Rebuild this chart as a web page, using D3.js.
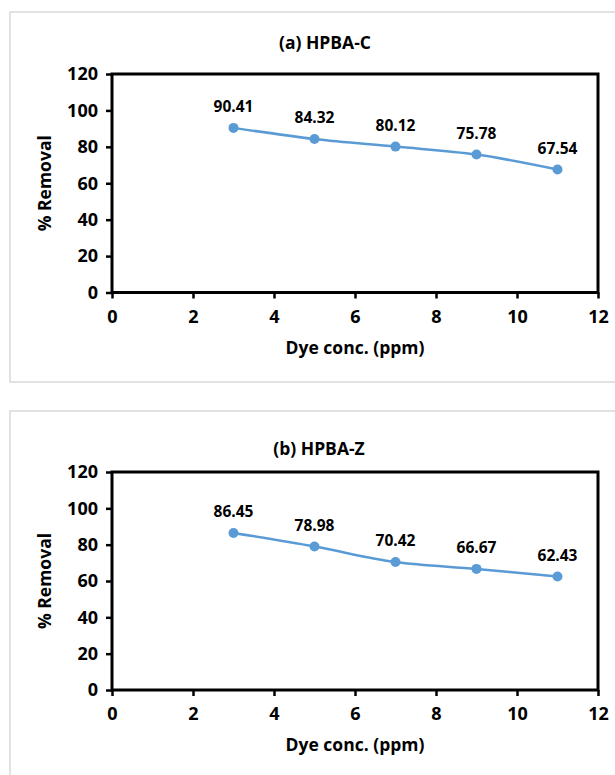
<!DOCTYPE html>
<html>
<head>
<meta charset="utf-8">
<script src="https://cdn.jsdelivr.net/npm/d3@7"></script>
<style>
  body { margin: 0; background: #fff; }
  svg text { font-family: "Open Sans", "DejaVu Sans", sans-serif; font-weight: bold; fill: #000; }
</style>
</head>
<body>
<div id="chart"></div>
<script>
// data
var dyeConc = [3, 5, 7, 9, 11];
var removalC = [90.41, 84.32, 80.12, 75.78, 67.54];
var removalZ = [86.45, 78.98, 70.42, 66.67, 62.43];
var xTicks = [0, 2, 4, 6, 8, 10, 12];
var yTicks = [0, 20, 40, 60, 80, 100, 120];
var titles = ['(a) HPBA-C', '(b) HPBA-Z'];

var width = 615, height = 775;
var svg = d3.select('#chart').append('svg')
    .attr('width', width)
    .attr('height', height);

svg.append('rect').attr('width', width).attr('height', height).attr('fill', '#fff');

// layout of each panel (frame top, plot top/bottom, title y)
var panels = [
    { frameY: 12, frameH: 370, top: 74, bottom: 292.5, titleY: 43, titleX: 325, values: removalC },
    { frameY: 411, frameH: 400, top: 472, bottom: 690, titleY: 449, titleX: 319, values: removalZ }
];

var left = 112, right = 598;
var blue = '#5b9bd5';

panels.forEach(function (p, k) {
    var g = svg.append('g');

    // panel frame (light grey, runs off the right edge)
    g.append('rect')
        .attr('x', 10).attr('y', p.frameY)
        .attr('width', 640).attr('height', p.frameH)
        .attr('fill', 'none')
        .attr('stroke', '#d9d9d9')
        .attr('stroke-width', 1.5);

    var x = d3.scaleLinear().domain([0, 12]).range([left, right]);
    var y = d3.scaleLinear().domain([0, 120]).range([p.bottom, p.top]);

    // axes
    var xAxis = g.append('g')
        .attr('transform', 'translate(0,' + p.bottom + ')')
        .call(d3.axisBottom(x).tickValues(xTicks).tickSize(6).tickPadding(9).tickFormat(d3.format('d')));
    var yAxis = g.append('g')
        .attr('transform', 'translate(' + left + ',0)')
        .call(d3.axisLeft(y).tickValues(yTicks).tickSize(6).tickPadding(8).tickFormat(d3.format('d')));

    [xAxis, yAxis].forEach(function (a) {
        a.select('.domain').remove();
        a.selectAll('.tick line').attr('stroke', '#000').attr('stroke-width', 2.5);
        a.selectAll('.tick text').attr('font-size', 18);
    });
    xAxis.selectAll('.tick text').attr('dy', '0.85em');

    // plot area border
    g.append('rect')
        .attr('x', left).attr('y', p.top)
        .attr('width', right - left).attr('height', p.bottom - p.top)
        .attr('fill', 'none')
        .attr('stroke', '#000')
        .attr('stroke-width', 3);

    // series
    var pts = dyeConc.map(function (c, i) { return [c, p.values[i]]; });
    var line = d3.line()
        .x(function (d) { return x(d[0]); })
        .y(function (d) { return y(d[1]); })
        .curve(d3.curveCatmullRom.alpha(0.5));

    g.append('path')
        .attr('d', line(pts))
        .attr('fill', 'none')
        .attr('stroke', blue)
        .attr('stroke-width', 2.5);

    g.selectAll('.pt').data(pts).enter().append('circle')
        .attr('cx', function (d) { return x(d[0]); })
        .attr('cy', function (d) { return y(d[1]); })
        .attr('r', 5)
        .attr('fill', blue);

    g.selectAll('.lbl').data(pts).enter().append('text')
        .attr('x', function (d) { return x(d[0]); })
        .attr('y', function (d) { return y(d[1]) - 16; })
        .attr('text-anchor', 'middle')
        .attr('font-size', 15.5)
        .text(function (d) { return d[1].toFixed(2); });

    // titles
    g.append('text')
        .attr('x', p.titleX)
        .attr('y', p.titleY)
        .attr('dy', '0.35em')
        .attr('text-anchor', 'middle')
        .attr('font-size', 17.5)
        .text(titles[k]);

    g.append('text')
        .attr('x', (left + right) / 2)
        .attr('y', p.bottom + 55)
        .attr('dy', '0.35em')
        .attr('text-anchor', 'middle')
        .attr('font-size', 17.5)
        .text('Dye conc. (ppm)');

    g.append('text')
        .attr('transform', 'translate(45,' + (p.top + p.bottom) / 2 + ') rotate(-90)')
        .attr('dy', '0.35em')
        .attr('text-anchor', 'middle')
        .attr('font-size', 17.5)
        .text('% Removal');
});
</script>
</body>
</html>
